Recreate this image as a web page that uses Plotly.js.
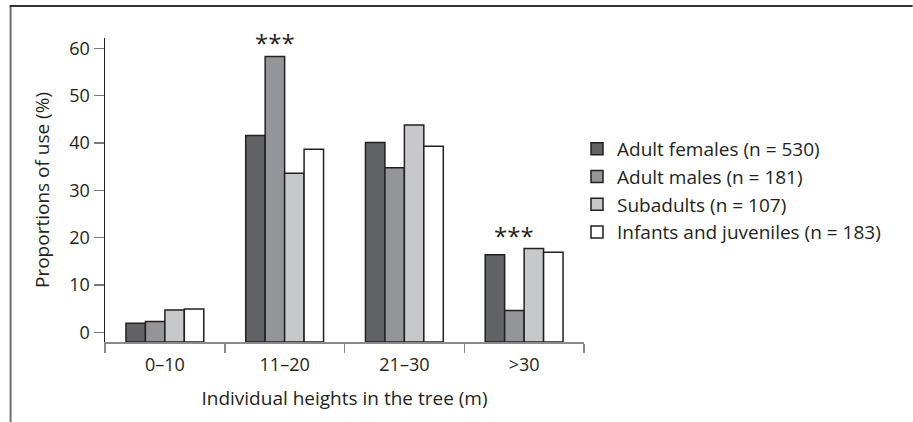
<!DOCTYPE html>
<html>
<head>
<meta charset="utf-8">
<script src="https://cdn.plot.ly/plotly-3.0.1.min.js"></script>
<style>html,body{margin:0;padding:0;background:#fff;}#chart{width:913px;height:422px;}</style>
</head>
<body>
<div id="chart"></div>
<script>
const categories = ["0–10", "11–20", "21–30", ">30"];
const seriesNames = ["Adult females (n = 530)", "Adult males (n = 181)", "Subadults (n = 107)", "Infants and juveniles (n = 183)"];
const adultFemales = [1.9, 41.6, 40.1, 16.4];
const adultMales = [2.3, 58.3, 34.8, 4.6];
const subadults = [4.7, 33.6, 43.8, 17.7];
const infantsJuveniles = [4.9, 38.7, 39.3, 16.9];
const yTickValues = [0, 10, 20, 30, 40, 50, 60];
const significance = [{cat: 1, label: "***"}, {cat: 3, label: "***"}];

const colors = ["#626366", "#939598", "#c7c8ca", "#ffffff"];
const FONT = "Open Sans, Noto Sans, sans-serif";
const TEXT = "#231f20";
const BASE = -2.05;   // bars rise from the axis line, below 0
const Y_TOP = 62.2;
const BARGAP = 0.35;

const allSeries = [adultFemales, adultMales, subadults, infantsJuveniles];
const traces = allSeries.map((vals, i) => ({
  type: "bar",
  name: seriesNames[i],
  x: categories,
  y: vals.map(v => v - BASE),
  base: BASE,
  marker: {color: colors[i], line: {color: "#231f20", width: 1.5}},
  hoverinfo: "skip"
}));

const barW = (1 - BARGAP) / allSeries.length;
const amOffset = -(1 - BARGAP) / 2 + barW * 1.5;

const annotations = significance.map(s => ({
  x: s.cat + amOffset,
  y: Math.max(...allSeries.map(a => a[s.cat])),
  xref: "x", yref: "y",
  text: s.label,
  showarrow: false,
  yanchor: "bottom",
  yshift: -5,
  font: {family: FONT, size: 24, color: TEXT}
}));

const L = 104.5, R = 584, T = 38, B = 342, W = 913, H = 422;
const px2x = p => (p - L) / (R - L);
const py2y = p => (B - p) / (B - T);

const shapes = [
  {type: "line", xref: "paper", yref: "paper", x0: px2x(10), x1: px2x(10), y0: py2y(6), y1: py2y(H), line: {color: "#6e6e6e", width: 2}},
  {type: "line", xref: "paper", yref: "paper", x0: px2x(9), x1: px2x(W), y0: py2y(6), y1: py2y(6), line: {color: "#333333", width: 2}}
];

const layout = {
  width: W, height: H,
  margin: {l: L, r: W - R, t: T, b: H - B, pad: 0},
  paper_bgcolor: "#ffffff", plot_bgcolor: "#ffffff",
  font: {family: FONT, color: TEXT, size: 18},
  barmode: "group",
  bargap: BARGAP,
  bargroupgap: 0,
  showlegend: true,
  legend: {
    x: px2x(577), y: py2y(130), xanchor: "left", yanchor: "top",
    font: {family: FONT, size: 19, color: TEXT},
    bgcolor: "rgba(0,0,0,0)", borderwidth: 0, traceorder: "normal"
  },
  xaxis: {
    type: "category",
    showline: true, linecolor: "#8a8a8a", linewidth: 1.5,
    ticks: "outside", tickson: "boundaries", ticklen: 9, tickcolor: "#8a8a8a", tickwidth: 1.5,
    ticklabelstandoff: 6,
    showgrid: false, zeroline: false,
    tickfont: {family: FONT, size: 18, color: TEXT},
    title: {text: "Individual heights in the tree (m)", font: {family: FONT, size: 19, color: TEXT}, standoff: 16},
    fixedrange: true
  },
  yaxis: {
    range: [BASE, Y_TOP],
    tickvals: yTickValues,
    showline: true, linecolor: "#231f20", linewidth: 1.5,
    ticks: "outside", ticklen: 10, tickcolor: "#7a7a7a", tickwidth: 1.5,
    showgrid: false, zeroline: false,
    tickfont: {family: FONT, size: 18, color: TEXT},
    title: {text: "Proportions of use (%)", font: {family: FONT, size: 19, color: TEXT}, standoff: 14},
    fixedrange: true
  },
  annotations: annotations,
  shapes: shapes
};

Plotly.newPlot("chart", traces, layout, {displayModeBar: false, staticPlot: true});
</script>
</body>
</html>
